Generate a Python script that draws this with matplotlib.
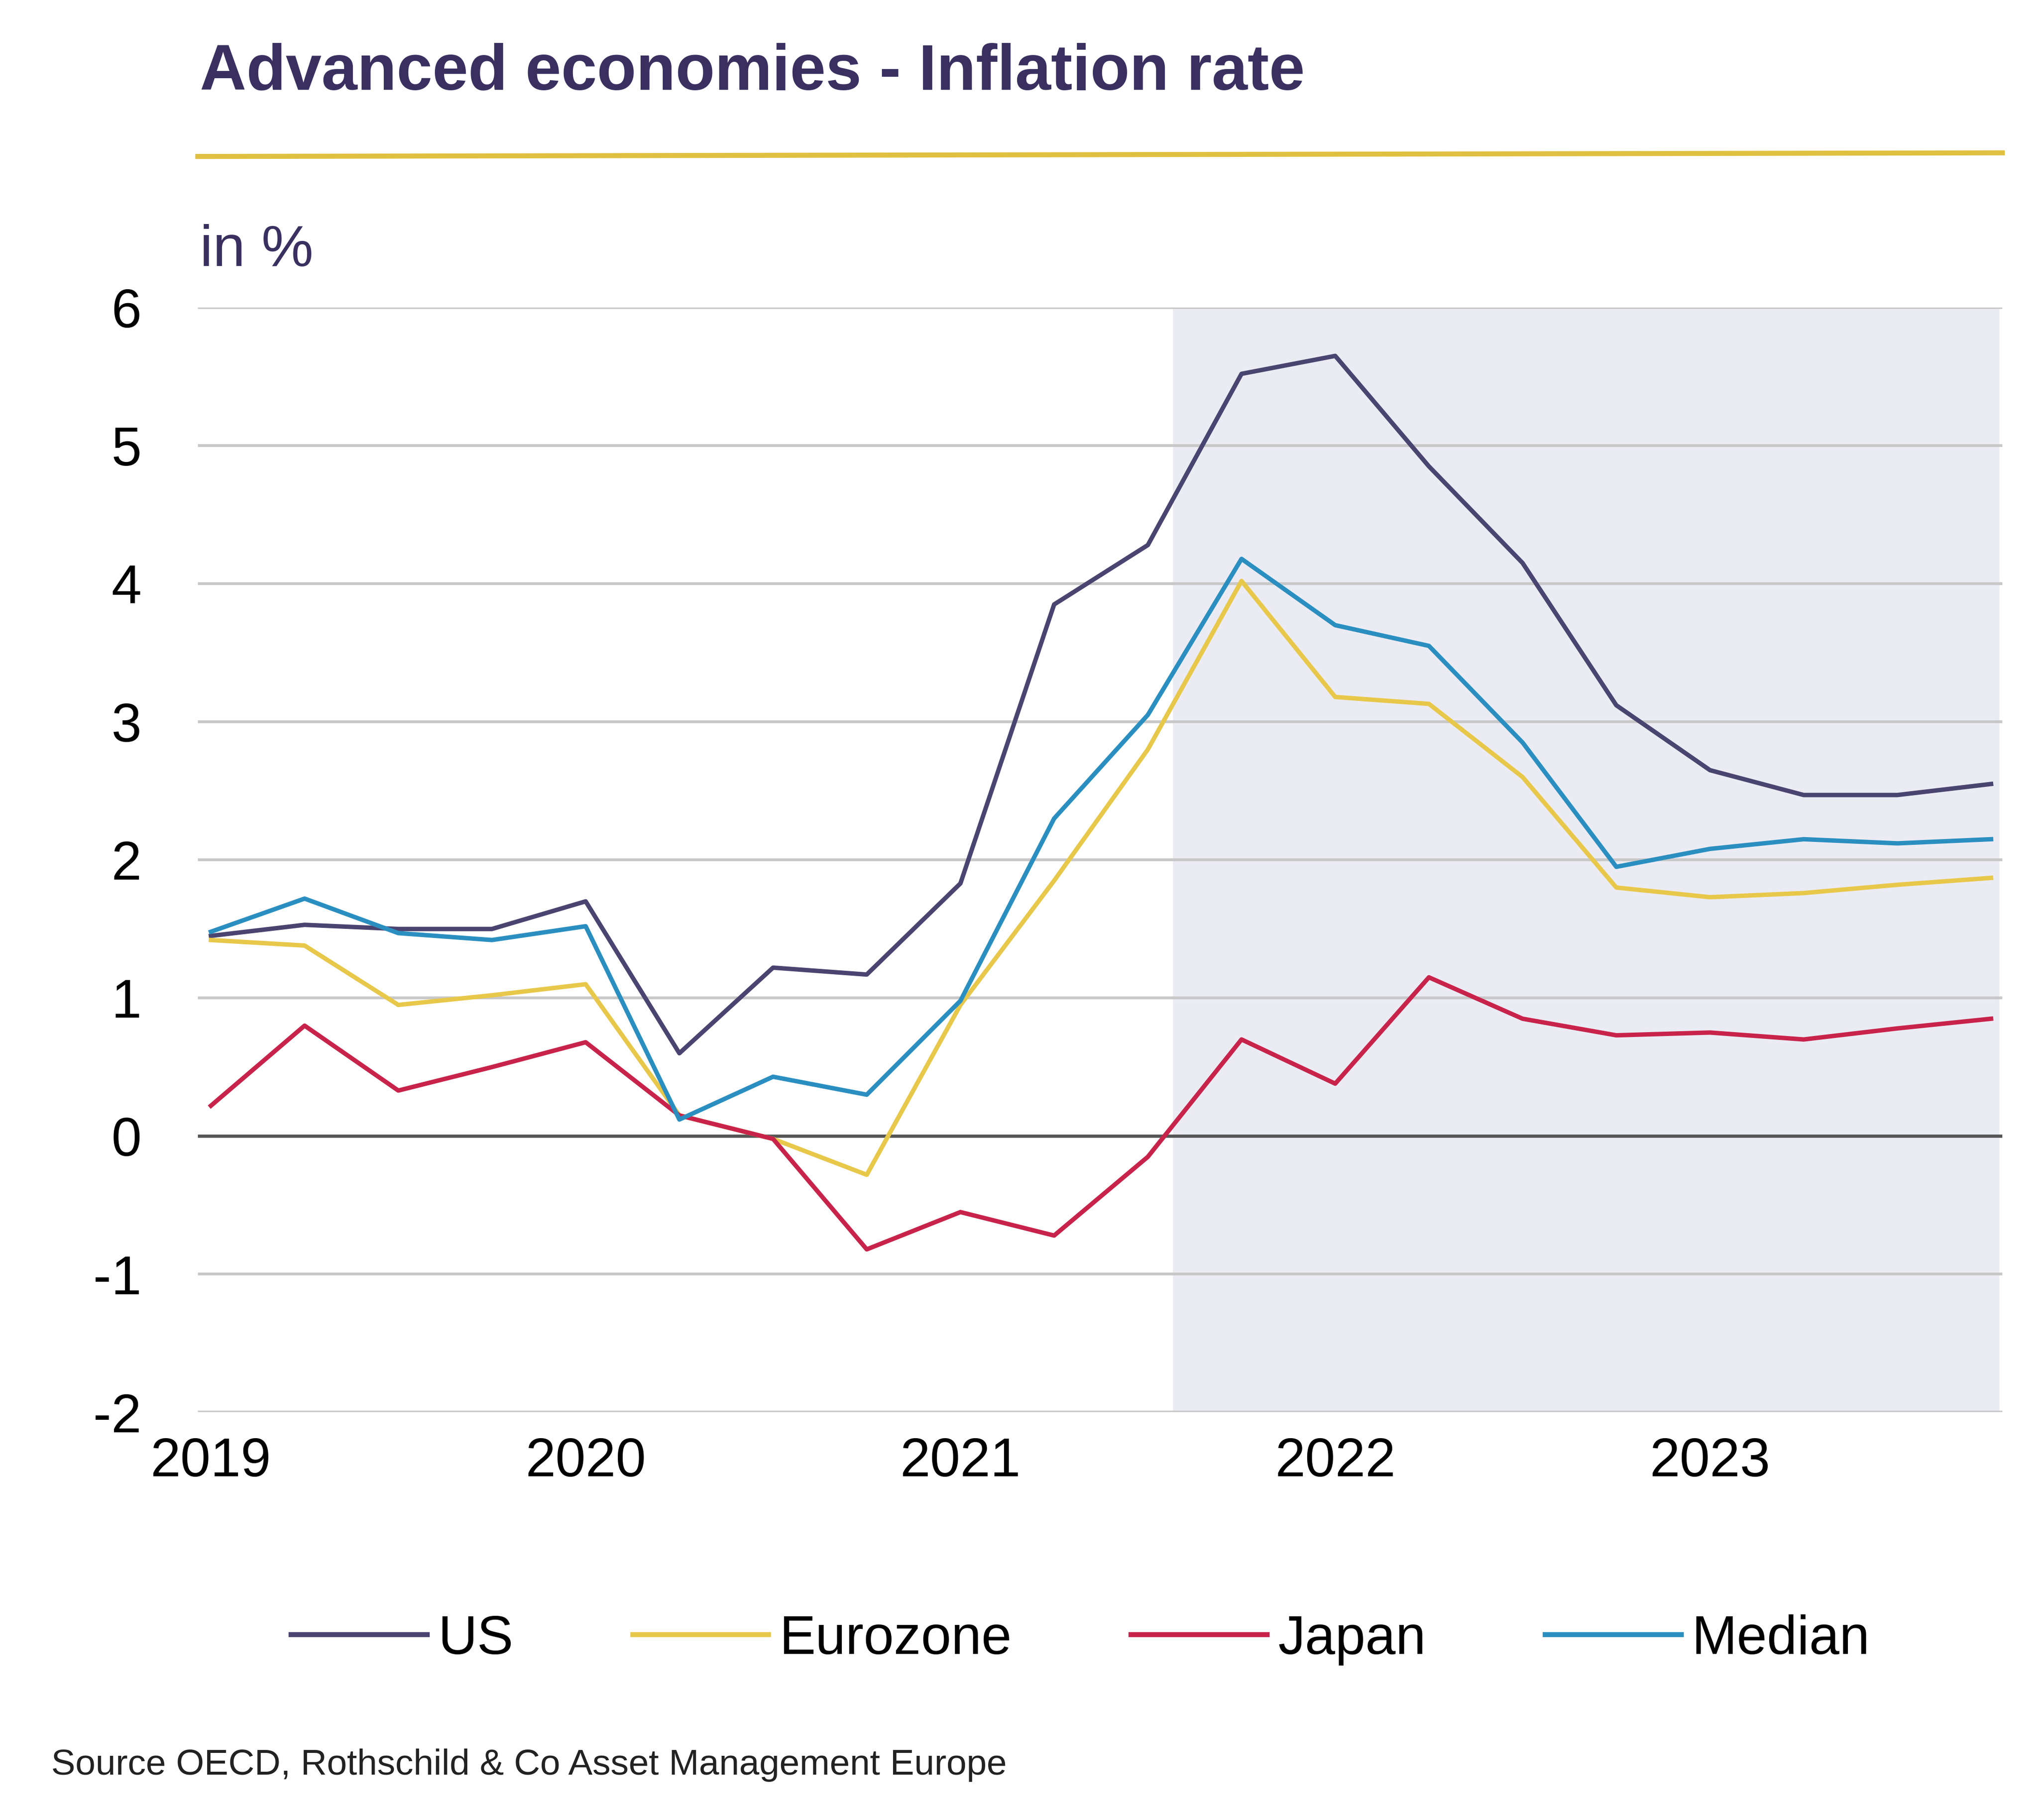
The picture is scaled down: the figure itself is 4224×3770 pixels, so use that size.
import numpy as np
import matplotlib.pyplot as plt
from matplotlib.lines import Line2D

plt.rcParams['font.family'] = ['Liberation Sans', 'DejaVu Sans']

quarters = np.arange(20)
us = [1.45, 1.53, 1.50, 1.50, 1.70, 0.60, 1.22, 1.17, 1.83, 3.85,
      4.28, 5.52, 5.65, 4.85, 4.15, 3.12, 2.65, 2.47, 2.47, 2.55]
eurozone = [1.42, 1.38, 0.95, 1.02, 1.10, 0.15, -0.02, -0.28, 0.95, 1.85,
            2.80, 4.02, 3.18, 3.13, 2.60, 1.80, 1.73, 1.76, 1.82, 1.87]
japan = [0.22, 0.80, 0.33, 0.50, 0.68, 0.15, -0.02, -0.82, -0.55, -0.72,
         -0.15, 0.70, 0.38, 1.15, 0.85, 0.73, 0.75, 0.70, 0.78, 0.85]
median = [1.48, 1.72, 1.47, 1.42, 1.52, 0.12, 0.43, 0.30, 0.98, 2.30,
          3.05, 4.18, 3.70, 3.55, 2.85, 1.95, 2.08, 2.15, 2.12, 2.15]
years = [2019, 2020, 2021, 2022, 2023]

series = [("US", us, "#4a4470"), ("Eurozone", eurozone, "#e8c84a"),
          ("Japan", japan, "#c8234a"), ("Median", median, "#2a8fc0")]

x = 2019 + quarters / 4

fig = plt.figure(figsize=(14.08, 12.567), dpi=300)
ax = fig.add_axes([0.097, 0.224, 0.885, 0.607])

ax.axvspan(2021.57, 2023.77, ymin=0, ymax=1, color="#ebebf3", zorder=0)
for y in range(-2, 7):
    ax.axhline(y, color="#555555" if y == 0 else "#c8c8c8",
               lw=1.6 if y == 0 else 1.4, zorder=1)
for name, vals, col in series:
    ax.plot(x, vals, color=col, lw=2.2, zorder=3)

ax.set_xlim(2018.965, 2023.78)
ax.set_ylim(-2, 6)
ax.set_yticks(range(-2, 7))
ax.set_yticklabels([str(v) for v in range(-2, 7)], fontsize=27)
ax.set_xticks(years)
ax.set_xticklabels([str(v) for v in years], fontsize=27)
ax.tick_params(length=0, pad=12)
ax.tick_params(axis="y", pad=28)
for s in ax.spines.values():
    s.set_visible(False)
ax.patch.set_alpha(0)

fig.text(0.098, 0.96, "Advanced economies - Inflation rate", fontsize=32,
         fontweight="bold", color="#3a3060", va="center")
fig.add_artist(Line2D([0.097, 0.982], [0.914, 0.916], color="#e0c040", lw=2.5))
fig.text(0.098, 0.862, "in %", fontsize=29, color="#3a3060", va="center")

handles = [Line2D([], [], color=c, lw=2.5) for _, _, c in series]
fig.legend(handles, [n for n, _, _ in series], loc="center",
           bbox_to_anchor=(0.53, 0.099), ncol=4, frameon=False, fontsize=27,
           handlelength=2.5, columnspacing=2.2, handletextpad=0.2)
fig.text(0.025, 0.03, "Source OECD, Rothschild & Co Asset Management Europe",
         fontsize=18, color="#222222", va="center")

fig.savefig("out.png", dpi=300, facecolor="white")
